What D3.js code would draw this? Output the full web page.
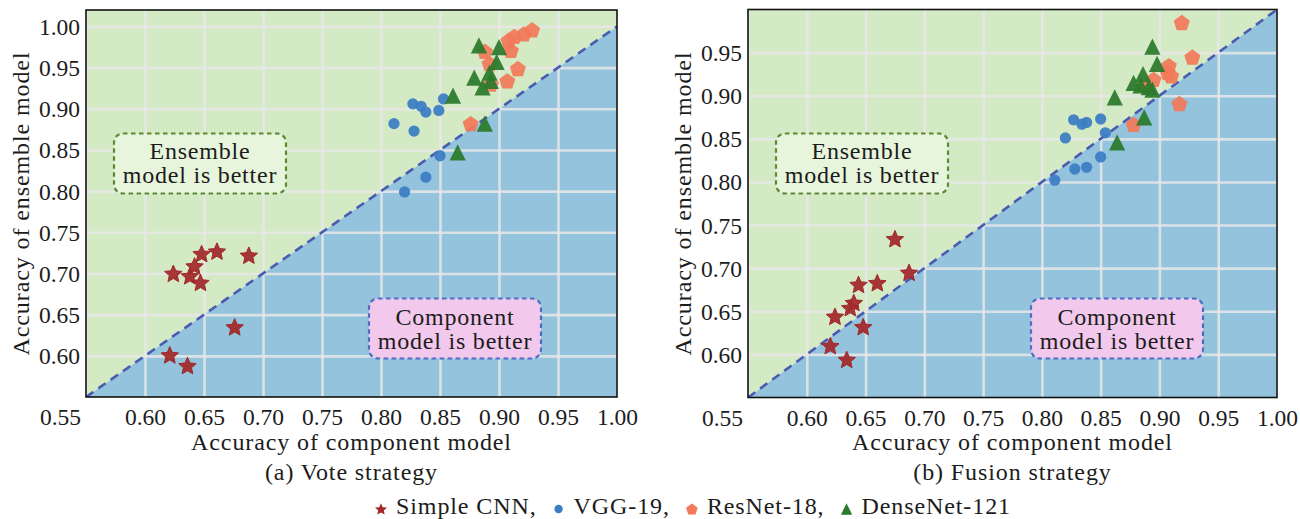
<!DOCTYPE html>
<html><head><meta charset="utf-8">
<script src="https://cdn.jsdelivr.net/npm/d3@7"></script>
<style>body{margin:0;background:#fff;}</style>
</head><body>
<svg id="chart" width="1300" height="519"></svg>
<script>
// ---------- data ----------
const seriesNames = ["Simple CNN", "VGG-19", "ResNet-18", "DenseNet-121"];
const xTickValues = [0.55, 0.60, 0.65, 0.70, 0.75, 0.80, 0.85, 0.90, 0.95, 1.00];
const voteYTickValues = [0.60, 0.65, 0.70, 0.75, 0.80, 0.85, 0.90, 0.95, 1.00];
const fusionYTickValues = [0.60, 0.65, 0.70, 0.75, 0.80, 0.85, 0.90, 0.95];
const panelCaptions = ["(a) Vote strategy", "(b) Fusion strategy"];

const voteSimpleCNN = [[0.648,0.724],[0.661,0.727],[0.688,0.722],[0.624,0.700],[0.642,0.709],[0.638,0.697],[0.647,0.689],[0.676,0.635],[0.621,0.601],[0.636,0.588]];
const voteVGG19 = [[0.811,0.882],[0.827,0.906],[0.834,0.903],[0.838,0.896],[0.849,0.898],[0.853,0.912],[0.828,0.873],[0.850,0.843],[0.838,0.817],[0.820,0.799]];
const voteResNet18 = [[0.928,0.996],[0.921,0.991],[0.913,0.988],[0.908,0.983],[0.910,0.971],[0.916,0.949],[0.907,0.934],[0.876,0.882],[0.888,0.970],[0.893,0.930],[0.892,0.955]];
const voteDenseNet121 = [[0.883,0.977],[0.900,0.975],[0.898,0.957],[0.892,0.944],[0.879,0.938],[0.893,0.934],[0.886,0.926],[0.861,0.916],[0.888,0.882],[0.865,0.847]];

const fusionSimpleCNN = [[0.675,0.734],[0.687,0.695],[0.644,0.681],[0.660,0.683],[0.640,0.660],[0.637,0.654],[0.624,0.644],[0.648,0.632],[0.620,0.610],[0.634,0.594]];
const fusionVGG19 = [[0.827,0.872],[0.834,0.867],[0.838,0.869],[0.850,0.873],[0.854,0.857],[0.820,0.851],[0.850,0.829],[0.838,0.817],[0.828,0.815],[0.811,0.802]];
const fusionResNet18 = [[0.919,0.985],[0.928,0.945],[0.908,0.935],[0.910,0.923],[0.895,0.919],[0.907,0.927],[0.917,0.891],[0.878,0.867],[0.889,0.911]];
const fusionDenseNet121 = [[0.894,0.957],[0.898,0.937],[0.886,0.925],[0.878,0.915],[0.884,0.912],[0.891,0.910],[0.894,0.907],[0.862,0.898],[0.887,0.875],[0.864,0.846]];

// ---------- styles ----------
const colors = ["#a2282a", "#3b7dc4", "#f27a5a", "#2b7a2b"];
const FONT = "'Liberation Serif', 'Times New Roman', serif";
const fontMain = 24;

const starShape = { draw(ctx, size) {
  const r = Math.sqrt(size), ri = r * 0.46;
  for (let i = 0; i < 10; i++) {
    const a = -Math.PI/2 + i*Math.PI/5, rr = i % 2 ? ri : r;
    const x = rr*Math.cos(a), y = rr*Math.sin(a) + r*0.08;
    i ? ctx.lineTo(x, y) : ctx.moveTo(x, y);
  }
  ctx.closePath();
}};
const pentagon = { draw(ctx, size) {
  const r = Math.sqrt(size);
  for (let i = 0; i < 5; i++) {
    const a = -Math.PI/2 + i*2*Math.PI/5;
    const x = r*Math.cos(a), y = r*Math.sin(a) + r*0.1;
    i ? ctx.lineTo(x, y) : ctx.moveTo(x, y);
  }
  ctx.closePath();
}};
const triUp = { draw(ctx, size) {
  const h = Math.sqrt(size);
  ctx.moveTo(0, -h); ctx.lineTo(h, h); ctx.lineTo(-h, h); ctx.closePath();
}};
const symbols = [
  d3.symbol().type(starShape).size(84),
  d3.symbol().type(d3.symbolCircle).size(100),
  d3.symbol().type(pentagon).size(72),
  d3.symbol().type(triUp).size(66)
];

const svg = d3.select("#chart");

function serif(sel) {
  return sel.style("font-family", FONT).style("fill", "#1c1c1c");
}
function addText(sel, t) {
  return serif(sel.append("text")).text(t);
}

function drawPanel(cfg, idx) {
  const x = d3.scaleLinear().domain([0.55, 1.0]).range([cfg.x0, cfg.x1]);
  const y = d3.scaleLinear().domain(cfg.yDomain).range([cfg.y0, cfg.y1]);
  const g = svg.append("g");
  const clipId = "clip" + idx;
  svg.append("clipPath").attr("id", clipId).append("rect")
    .attr("x", cfg.x0).attr("y", cfg.y1).attr("width", cfg.x1 - cfg.x0).attr("height", cfg.y0 - cfg.y1);
  const inner = g.append("g").attr("clip-path", `url(#${clipId})`);

  const yTop = cfg.yDomain[1];
  inner.append("path")
    .attr("d", `M${x(0.55)},${y(0.55)} L${x(1.0)},${y(1.0)} L${x(1.0)},${y(yTop)} L${x(0.55)},${y(yTop)} Z`)
    .attr("fill", "#d4eac4");
  inner.append("path")
    .attr("d", `M${x(0.55)},${y(0.55)} L${x(1.0)},${y(1.0)} L${x(1.0)},${y(0.55)} Z`)
    .attr("fill", "#94c3dd");

  inner.append("g").attr("transform", `translate(0,${cfg.y0})`)
    .call(d3.axisBottom(x).tickValues(xTickValues).tickSize(-(cfg.y0 - cfg.y1)).tickFormat(""))
    .call(a => a.select(".domain").remove())
    .selectAll("line").attr("stroke", "rgba(232,232,232,0.85)").attr("stroke-width", 2.6);
  inner.append("g").attr("transform", `translate(${cfg.x0},0)`)
    .call(d3.axisLeft(y).tickValues(cfg.yTicks).tickSize(-(cfg.x1 - cfg.x0)).tickFormat(""))
    .call(a => a.select(".domain").remove())
    .selectAll("line").attr("stroke", "rgba(232,232,232,0.85)").attr("stroke-width", 2.6);

  inner.append("line")
    .attr("x1", x(0.55)).attr("y1", y(0.55)).attr("x2", x(1.0)).attr("y2", y(1.0))
    .attr("stroke", "#4a5cb0").attr("stroke-width", 2.6).attr("stroke-dasharray", "9,6");

  const boxes = [
    {dx: 28, top: 133.5, fill: "#e8f5dd", stroke: "#5d8a31", lines: ["Ensemble", "model is better"], base: [159, 183]},
    {dx: 283, top: 298.5, fill: "#f2c9ec", stroke: "#4d6ec6", lines: ["Component", "model is better"], base: [325, 348.5]}
  ];
  boxes.forEach(b => {
    const bx = cfg.x0 + b.dx;
    g.append("rect").attr("x", bx).attr("y", b.top).attr("width", 172).attr("height", 60)
      .attr("rx", 9).attr("fill", b.fill).attr("stroke", b.stroke)
      .attr("stroke-width", 2.2).attr("stroke-dasharray", "4.5,3.5");
    b.lines.forEach((t, i) => {
      addText(g, t).attr("x", bx + 86).attr("y", b.base[i]).attr("text-anchor", "middle")
        .style("font-size", fontMain + "px").style("letter-spacing", "0.8px");
    });
  });

  cfg.series.forEach((pts, si) => {
    inner.append("g").selectAll("path").data(pts).join("path")
      .attr("d", symbols[si]())
      .attr("transform", d => `translate(${x(d[0])},${y(d[1])})`)
      .attr("fill", colors[si]).attr("fill-opacity", 0.93)
      .attr("stroke", si === 0 ? colors[si] : "none").attr("stroke-width", 1)
      .attr("stroke-linejoin", "round");
  });

  g.append("rect").attr("x", cfg.x0).attr("y", cfg.y1).attr("width", cfg.x1 - cfg.x0).attr("height", cfg.y0 - cfg.y1)
    .attr("fill", "none").attr("stroke", "#111").attr("stroke-width", 1.6);

  const xa = g.append("g").attr("transform", `translate(0,${cfg.y0})`)
    .call(d3.axisBottom(x).tickValues(xTickValues).tickSize(0).tickPadding(0).tickFormat(d3.format(".2f")));
  xa.select(".domain").remove();
  serif(xa.selectAll("text")).style("font-size", "23.5px")
    .attr("dy", null).attr("y", 28)
    .attr("x", d => d === 0.55 ? -26 : 0);

  const ya = g.append("g").attr("transform", `translate(${cfg.x0},0)`)
    .call(d3.axisLeft(y).tickValues(cfg.yTicks).tickSize(0).tickPadding(0).tickFormat(d3.format(".2f")));
  ya.select(".domain").remove();
  serif(ya.selectAll("text")).style("font-size", "23.5px")
    .attr("x", -6).attr("dy", "0.34em");

  const cx = (cfg.x0 + cfg.x1) / 2;
  addText(g, "Accuracy of component model").attr("x", cx).attr("y", 450).attr("text-anchor", "middle")
    .style("font-size", fontMain + "px").style("letter-spacing", "0.9px");
  addText(g, "Accuracy of ensemble model")
    .attr("transform", `translate(${cfg.x0 - 57},${(cfg.y0 + cfg.y1) / 2}) rotate(-90)`)
    .attr("text-anchor", "middle").style("font-size", fontMain + "px").style("letter-spacing", "0.9px");
  addText(g, panelCaptions[idx]).attr("x", cx).attr("y", 480).attr("text-anchor", "middle")
    .style("font-size", fontMain + "px").style("letter-spacing", "0.9px");
}

drawPanel({x0: 86, x1: 617, y0: 397, y1: 10, yDomain: [0.55, 1.02], yTicks: voteYTickValues,
  series: [voteSimpleCNN, voteVGG19, voteResNet18, voteDenseNet121]}, 0);
drawPanel({x0: 748, x1: 1277, y0: 397.5, y1: 9.5, yDomain: [0.55, 1.0], yTicks: fusionYTickValues,
  series: [fusionSimpleCNN, fusionVGG19, fusionResNet18, fusionDenseNet121]}, 1);

// legend
const legendLabels = seriesNames.map((s, i) => i < seriesNames.length - 1 ? s + "," : s);
const legendSymbols = [
  d3.symbol().type(starShape).size(40),
  d3.symbol().type(d3.symbolCircle).size(55),
  d3.symbol().type(pentagon).size(38),
  d3.symbol().type(triUp).size(32)
];
const lg = svg.append("g");
let lx = 381;
legendLabels.forEach((t, i) => {
  lg.append("path").attr("d", legendSymbols[i]()).attr("transform", `translate(${lx},509)`)
    .attr("fill", colors[i]);
  const tx = addText(lg, t).attr("x", lx + 15).attr("y", 514).style("font-size", fontMain + "px")
    .style("letter-spacing", "0.9px");
  lx += 15 + tx.node().getComputedTextLength() + 22;
});
</script>
</body></html>
